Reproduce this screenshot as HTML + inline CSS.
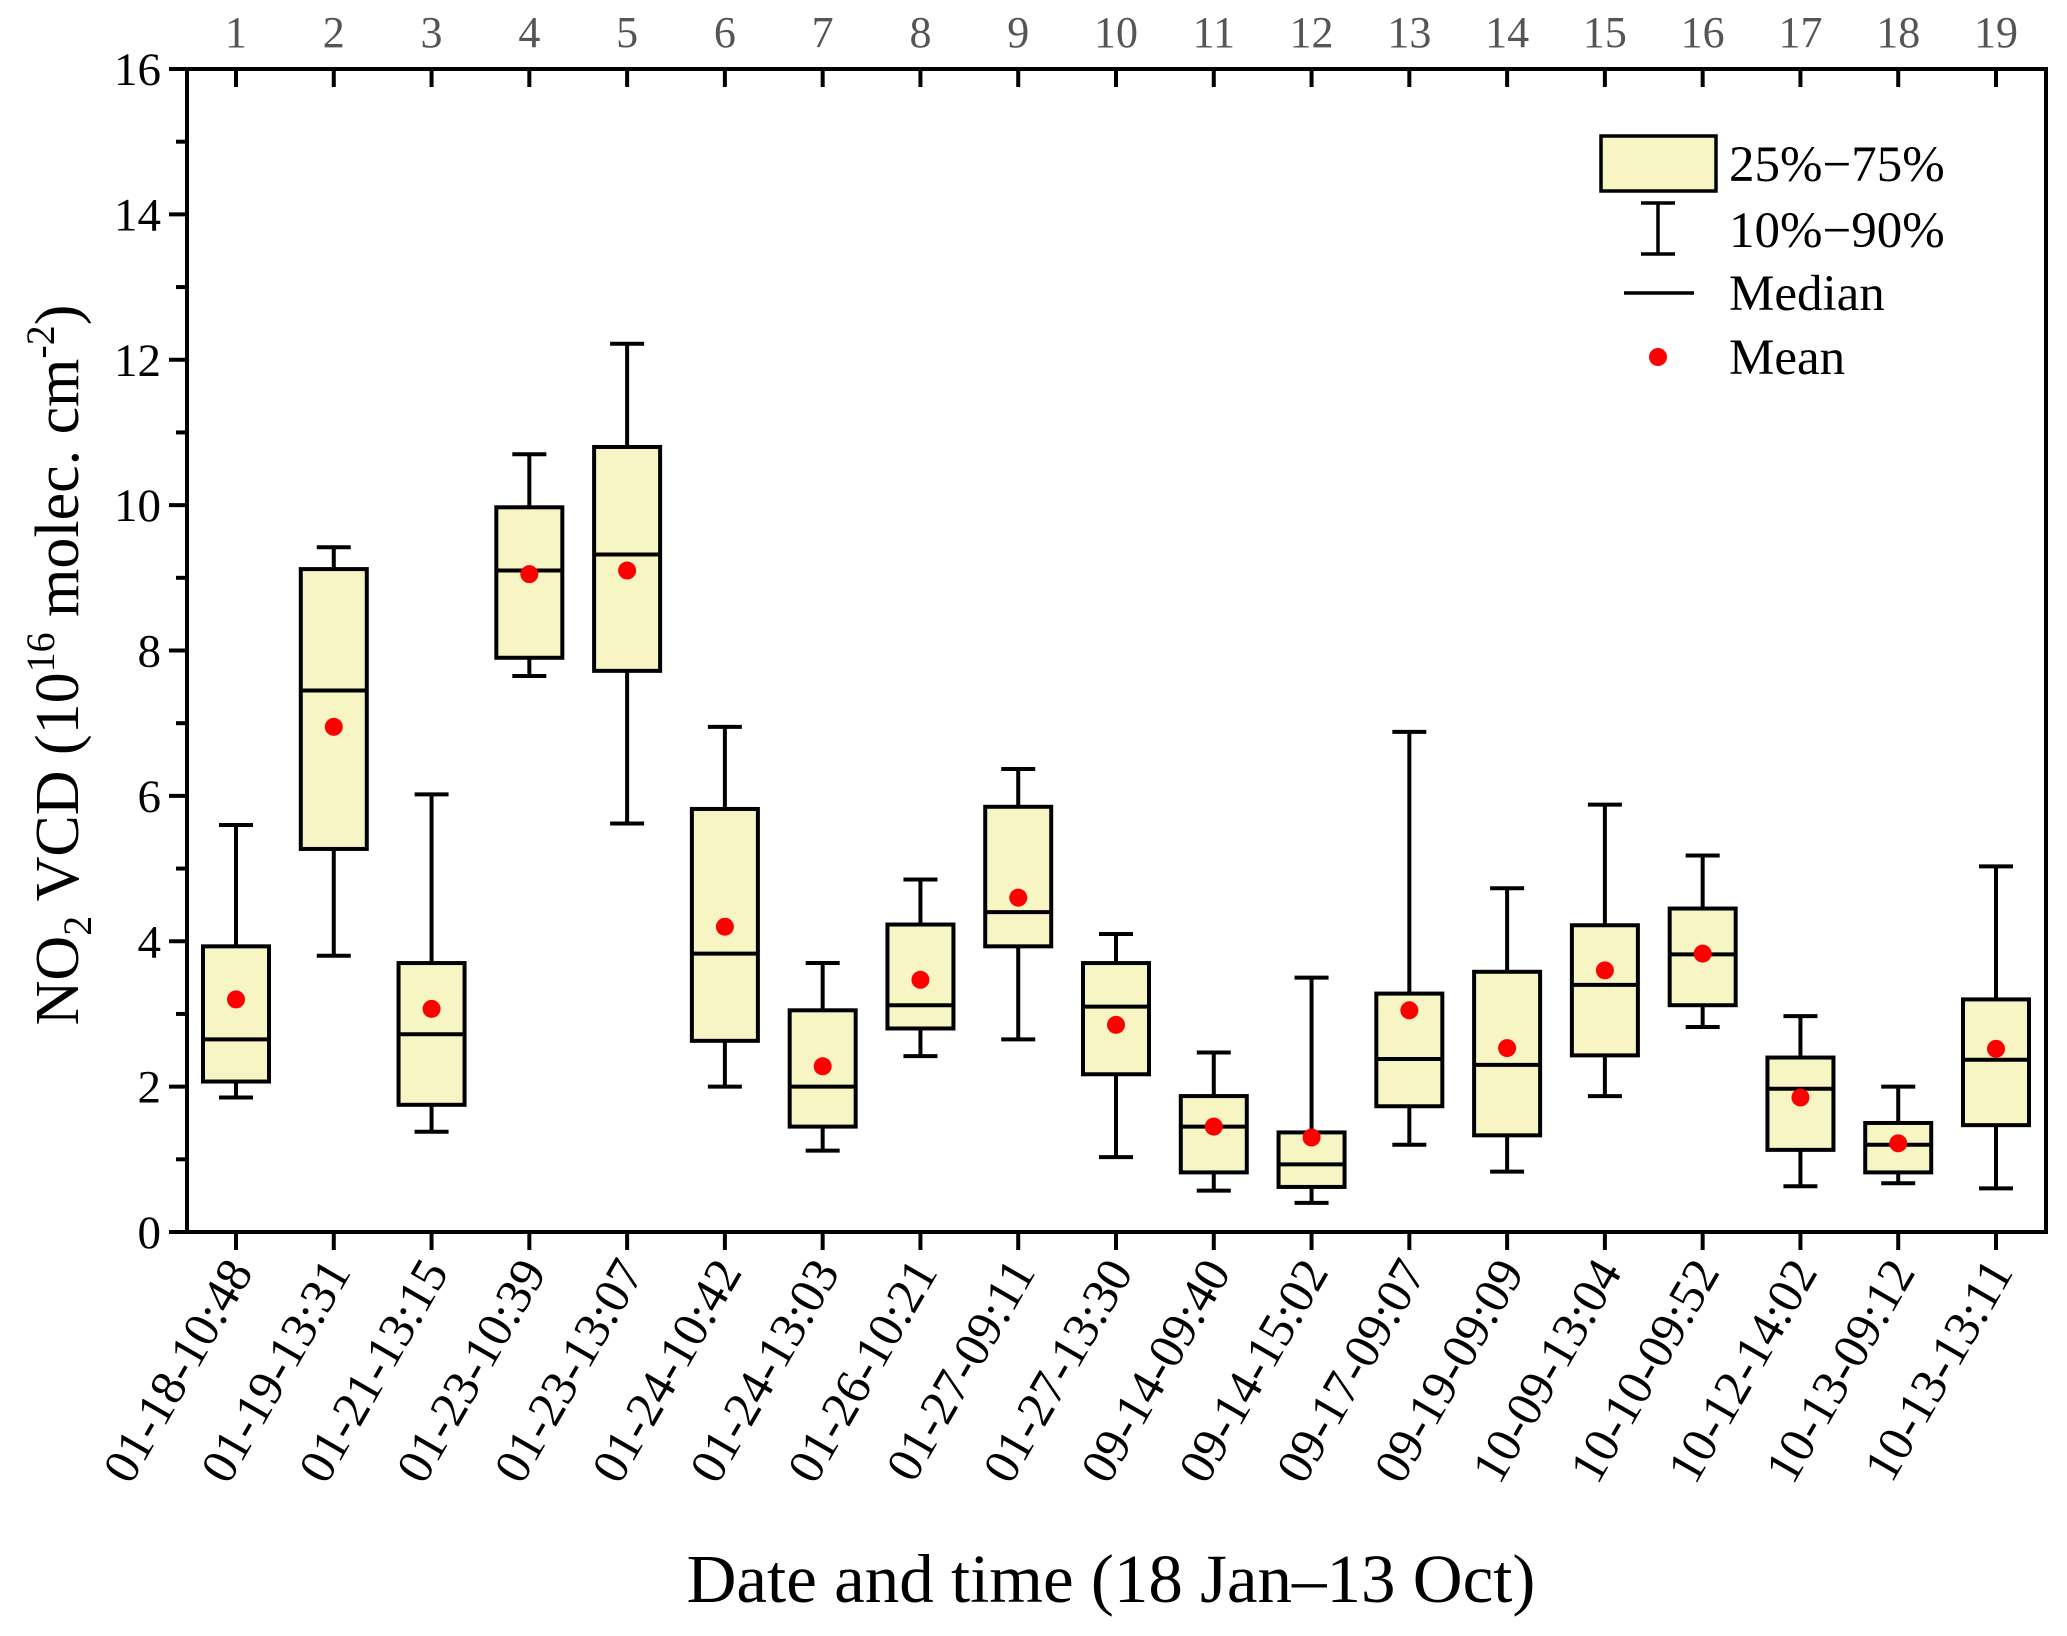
<!DOCTYPE html>
<html><head><meta charset="utf-8"><style>
html,body{margin:0;padding:0;background:#fff}
svg{display:block;font-family:"Liberation Serif",serif}
</style></head><body>
<svg width="2067" height="1636" viewBox="0 0 2067 1636" id="chart">
<g id="plot"></g>
<g font-size="51">
<rect x="1601" y="136" width="115" height="55" fill="#f8f5c4" stroke="#000" stroke-width="3.5"/>
<text x="1729" y="181">25%−75%</text>
<line x1="1658" x2="1658" y1="203" y2="254" stroke="#000" stroke-width="3.5"/>
<line x1="1641" x2="1675" y1="203" y2="203" stroke="#000" stroke-width="3.5"/>
<line x1="1641" x2="1675" y1="254" y2="254" stroke="#000" stroke-width="3.5"/>
<text x="1729" y="247">10%−90%</text>
<line x1="1624" x2="1694" y1="293" y2="293" stroke="#000" stroke-width="3.5"/>
<text x="1729" y="310">Median</text>
<circle cx="1658" cy="357" r="9" fill="#ff0000"/>
<text x="1729" y="374">Mean</text>
</g>
<text x="1111" y="1602" text-anchor="middle" font-size="69">Date and time (18 Jan–13 Oct)</text>
<text transform="translate(78,665) rotate(-90)" text-anchor="middle" font-size="62">NO<tspan font-size="40" dy="13">2</tspan><tspan dy="-13"> VCD (10</tspan><tspan font-size="40" dy="-24">16</tspan><tspan dy="24"> molec. cm</tspan><tspan font-size="40" dy="-24">-2</tspan><tspan dy="24">)</tspan></text>
</svg>
<script>
const categories=["01-18-10:48","01-19-13:31","01-21-13:15","01-23-10:39","01-23-13:07","01-24-10:42","01-24-13:03","01-26-10:21","01-27-09:11","01-27-13:30","09-14-09:40","09-14-15:02","09-17-09:07","09-19-09:09","10-09-13:04","10-10-09:52","10-12-14:02","10-13-09:12","10-13-13:11"];
const p10=[1.85,3.8,1.38,7.65,5.62,2.0,1.12,2.42,2.65,1.03,0.57,0.4,1.2,0.83,1.87,2.82,0.63,0.67,0.6];
const q1=[2.07,5.27,1.75,7.9,7.72,2.63,1.45,2.8,3.93,2.17,0.82,0.62,1.73,1.33,2.43,3.12,1.13,0.82,1.47];
const median=[2.65,7.45,2.72,9.1,9.32,3.83,2.0,3.12,4.4,3.1,1.45,0.93,2.38,2.3,3.4,3.82,1.97,1.2,2.37];
const q3=[3.93,9.12,3.7,9.97,10.8,5.82,3.05,4.23,5.85,3.7,1.87,1.37,3.28,3.58,4.22,4.45,2.4,1.5,3.2];
const p90=[5.6,9.42,6.02,10.7,12.22,6.95,3.7,4.85,6.37,4.1,2.47,3.5,6.88,4.73,5.88,5.18,2.97,2.0,5.03];
const means=[3.2,6.95,3.07,9.05,9.1,4.2,2.28,3.47,4.6,2.85,1.45,1.3,3.05,2.53,3.6,3.83,1.85,1.22,2.52];
const yTicks=[0,2,4,6,8,10,12,14,16];

const NS="http://www.w3.org/2000/svg";
const L=187,R=2046,T=69,B=1232;
const y=v=>B-(v/16)*(B-T);
const x=i=>236+i*(1996-236)/(categories.length-1);
const g=document.getElementById('plot');
function mk(tag,at,parent){const e=document.createElementNS(NS,tag);for(const k in at)e.setAttribute(k,at[k]);(parent||g).appendChild(e);return e;}
const BW=66,CW=34,SW=4;
categories.forEach((c,i)=>{
  const gg=mk('g',{});
  
  
  const cx=x(i);
  mk('line',{x1:cx,x2:cx,y1:y(p90[i]),y2:y(q3[i]),stroke:'#000','stroke-width':SW},gg);
  mk('line',{x1:cx,x2:cx,y1:y(q1[i]),y2:y(p10[i]),stroke:'#000','stroke-width':SW},gg);
  mk('line',{x1:cx-CW/2,x2:cx+CW/2,y1:y(p90[i]),y2:y(p90[i]),stroke:'#000','stroke-width':SW},gg);
  mk('line',{x1:cx-CW/2,x2:cx+CW/2,y1:y(p10[i]),y2:y(p10[i]),stroke:'#000','stroke-width':SW},gg);
  mk('rect',{x:cx-BW/2,y:y(q3[i]),width:BW,height:y(q1[i])-y(q3[i]),fill:'#f8f5c4',stroke:'#000','stroke-width':SW},gg);
  mk('line',{x1:cx-BW/2,x2:cx+BW/2,y1:y(median[i]),y2:y(median[i]),stroke:'#000','stroke-width':SW},gg);
  const d=mk('circle',{cx:cx,cy:y(means[i]),r:9,fill:'#ff0000'},gg);
  
  
  mk('line',{x1:cx,x2:cx,y1:B,y2:B+18,stroke:'#000','stroke-width':4});
  mk('line',{x1:cx,x2:cx,y1:T,y2:T+18,stroke:'#000','stroke-width':4});
  const tt=mk('text',{x:cx,y:T-22,'text-anchor':'middle','font-size':44,fill:'#555'});
  tt.textContent=String(i+1);
  
  
  const xl=mk('text',{x:0,y:0,'text-anchor':'end','font-size':50,transform:`translate(${cx+18},${B+40}) rotate(-60)`});
  xl.textContent=c;
  
  
});
yTicks.forEach(v=>{
  mk('line',{x1:L-18,x2:L,y1:y(v),y2:y(v),stroke:'#000','stroke-width':4});
  const t=mk('text',{x:L-26,y:y(v)+16,'text-anchor':'end','font-size':47});
  t.textContent=String(v);
  
  
  if(v<16) mk('line',{x1:L-11,x2:L,y1:y(v+1),y2:y(v+1),stroke:'#000','stroke-width':4});
});
const fr=mk('rect',{x:L,y:T,width:R-L,height:B-T,fill:'none',stroke:'#000','stroke-width':4});


</script>
</body></html>
